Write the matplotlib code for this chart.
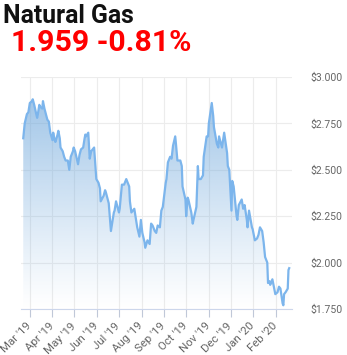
import numpy as np
import pandas as pd
import matplotlib
matplotlib.use('Agg')
import matplotlib.pyplot as plt
import matplotlib.dates as mdates
import matplotlib.transforms as mtransforms

plt.rcParams['font.family'] = ['Roboto', 'DejaVu Sans']

# Natural gas prices
dates = ['2019-02-20', '2019-02-22', '2019-02-25', '2019-02-27', '2019-03-01', '2019-03-04',
         '2019-03-05', '2019-03-07', '2019-03-11', '2019-03-12', '2019-03-14', '2019-03-15',
         '2019-03-18', '2019-03-19', '2019-03-21', '2019-03-25', '2019-03-27', '2019-03-29',
         '2019-04-01', '2019-04-02', '2019-04-04', '2019-04-05', '2019-04-08', '2019-04-09',
         '2019-04-11', '2019-04-12', '2019-04-15', '2019-04-17', '2019-04-19', '2019-04-22',
         '2019-04-24', '2019-04-26', '2019-04-29', '2019-04-30', '2019-05-02', '2019-05-06',
         '2019-05-08', '2019-05-10', '2019-05-13', '2019-05-15', '2019-05-16', '2019-05-17',
         '2019-05-20', '2019-05-22', '2019-05-23', '2019-05-24', '2019-05-28', '2019-05-31',
         '2019-06-03', '2019-06-05', '2019-06-06', '2019-06-10', '2019-06-12', '2019-06-13',
         '2019-06-17', '2019-06-18', '2019-06-20', '2019-06-24', '2019-06-25', '2019-06-27',
         '2019-07-01', '2019-07-02', '2019-07-05', '2019-07-08', '2019-07-11', '2019-07-15',
         '2019-07-16', '2019-07-18', '2019-07-22', '2019-07-24', '2019-07-26', '2019-07-29',
         '2019-07-31', '2019-08-02', '2019-08-05', '2019-08-06', '2019-08-09', '2019-08-12',
         '2019-08-14', '2019-08-16', '2019-08-19', '2019-08-21', '2019-08-23', '2019-08-26',
         '2019-08-28', '2019-08-30', '2019-09-03', '2019-09-04', '2019-09-06', '2019-09-09',
         '2019-09-11', '2019-09-13', '2019-09-16', '2019-09-17', '2019-09-19', '2019-09-23',
         '2019-09-25', '2019-09-26', '2019-09-30', '2019-10-01', '2019-10-03', '2019-10-04',
         '2019-10-08', '2019-10-10', '2019-10-11', '2019-10-15', '2019-10-17', '2019-10-18',
         '2019-10-21', '2019-10-24', '2019-10-25', '2019-10-29', '2019-10-31', '2019-11-01',
         '2019-11-05', '2019-11-07', '2019-11-08', '2019-11-12', '2019-11-14', '2019-11-15',
         '2019-11-19', '2019-11-22', '2019-11-26', '2019-11-27', '2019-11-29', '2019-12-02',
         '2019-12-03', '2019-12-05', '2019-12-09', '2019-12-10', '2019-12-12', '2019-12-16',
         '2019-12-18', '2019-12-20', '2019-12-23', '2019-12-24', '2019-12-26', '2019-12-30',
         '2019-12-31', '2020-01-03', '2020-01-06', '2020-01-08', '2020-01-10', '2020-01-13',
         '2020-01-15', '2020-01-17', '2020-01-20', '2020-01-21', '2020-01-23', '2020-01-24',
         '2020-01-27', '2020-01-29', '2020-01-31', '2020-02-03', '2020-02-05', '2020-02-07',
         '2020-02-10', '2020-02-11', '2020-02-12', '2020-02-14', '2020-02-17', '2020-02-18',
         '2020-02-19']
prices = [2.67, 2.75, 2.80, 2.81, 2.86, 2.87,
          2.88, 2.85, 2.78, 2.80, 2.85, 2.84,
          2.83, 2.87, 2.83, 2.77, 2.76, 2.70,
          2.66, 2.70, 2.66, 2.65, 2.69, 2.71,
          2.67, 2.62, 2.60, 2.57, 2.55, 2.55,
          2.50, 2.57, 2.60, 2.62, 2.60, 2.53,
          2.58, 2.61, 2.62, 2.67, 2.69, 2.68,
          2.70, 2.56, 2.58, 2.60, 2.62, 2.45,
          2.43, 2.40, 2.33, 2.36, 2.39, 2.38,
          2.32, 2.27, 2.17, 2.27, 2.28, 2.33,
          2.27, 2.29, 2.42, 2.42, 2.45, 2.41,
          2.33, 2.27, 2.29, 2.24, 2.19, 2.14,
          2.23, 2.16, 2.11, 2.08, 2.12, 2.10,
          2.21, 2.20, 2.17, 2.16, 2.20, 2.19,
          2.28, 2.30, 2.43, 2.45, 2.54, 2.57,
          2.56, 2.63, 2.68, 2.64, 2.55, 2.55,
          2.52, 2.41, 2.34, 2.25, 2.35, 2.34,
          2.27, 2.21, 2.23, 2.30, 2.52, 2.45,
          2.45, 2.47, 2.57, 2.68, 2.68, 2.75,
          2.86, 2.79, 2.73, 2.64, 2.62, 2.68,
          2.62, 2.70, 2.59, 2.52, 2.50, 2.28,
          2.44, 2.41, 2.25, 2.23, 2.31, 2.34,
          2.29, 2.31, 2.23, 2.19, 2.28, 2.19,
          2.18, 2.12, 2.13, 2.15, 2.19, 2.17,
          2.11, 2.03, 2.00, 1.89, 1.90, 1.88,
          1.91, 1.87, 1.83, 1.84, 1.87, 1.86,
          1.78, 1.77, 1.83, 1.84, 1.86, 1.96,
          1.97]

title = 'Natural Gas'
quote = '1.959 -0.81%'
y_ticks = [1.75, 2.0, 2.25, 2.5, 2.75, 3.0]

x = pd.to_datetime(dates)
y = np.array(prices)

fig = plt.figure(figsize=(3.47, 3.55), dpi=100)
ax = fig.add_axes([0.0605, 0.1296, 0.781, 0.6535])

line_color = '#7cb5ec'
grid_color = '#ececec'
label_color = '#666666'

xl = (pd.Timestamp('2019-02-16 22:00'), pd.Timestamp('2020-02-22 20:00'))

# gradient fill under the line (semi transparent, grid shows through)
fill = ax.fill_between(x, y, 1.75, facecolor='none', edgecolor='none')
alpha = np.linspace(0.0, 0.72, 256) ** 1.1
rgba = np.zeros((256, 1, 4))
rgba[..., 0] = 112 / 255
rgba[..., 1] = 168 / 255
rgba[..., 2] = 220 / 255
rgba[:, 0, 3] = alpha
img = ax.imshow(rgba, aspect='auto', origin='lower',
                extent=[mdates.date2num(xl[0]), mdates.date2num(xl[1]), 1.75, 2.95],
                zorder=2)
img.set_clip_path(fill.get_paths()[0], transform=ax.transData)
ax.set_xlim(xl)
ax.set_ylim(1.75, 3.0)

ax.plot(x, y, color=line_color, lw=1.6, zorder=3, solid_joinstyle='round')

# axes styling
ax.set_yticks(y_ticks)
ax.set_yticklabels([f'${v:.3f}' for v in y_ticks])
ax.yaxis.tick_right()
ax.tick_params(axis='y', length=0, pad=13, labelsize=7.5, labelcolor=label_color)
ax.xaxis.set_major_locator(mdates.MonthLocator())
ax.xaxis.set_major_formatter(mdates.DateFormatter("%b '%y"))
ax.tick_params(axis='x', length=6, width=0.8, color='#c0c8d8', pad=2.5,
               labelsize=8.2, labelcolor=label_color)
shift = mtransforms.ScaledTranslation(-4 / 100, 0, fig.dpi_scale_trans)
for lab in ax.get_xticklabels():
    lab.set_rotation(45)
    lab.set_ha('right')
    lab.set_rotation_mode('anchor')
    lab.set_transform(lab.get_transform() + shift)

ax.grid(True, color=grid_color, lw=0.8, zorder=0)
ax.set_axisbelow(True)
for s in ['top', 'left', 'right']:
    ax.spines[s].set_visible(False)
ax.spines['bottom'].set_color('#ccd6eb')
ax.spines['bottom'].set_linewidth(0.8)

fig.text(0.010, 0.988, title, fontsize=17.8, fontweight='bold', color='#111111',
         va='top', ha='left')
fig.text(0.032, 0.917, quote, fontsize=21.8, fontweight='bold', color='#ff0000',
         va='top', ha='left')

fig.savefig('out.png', dpi=100)
